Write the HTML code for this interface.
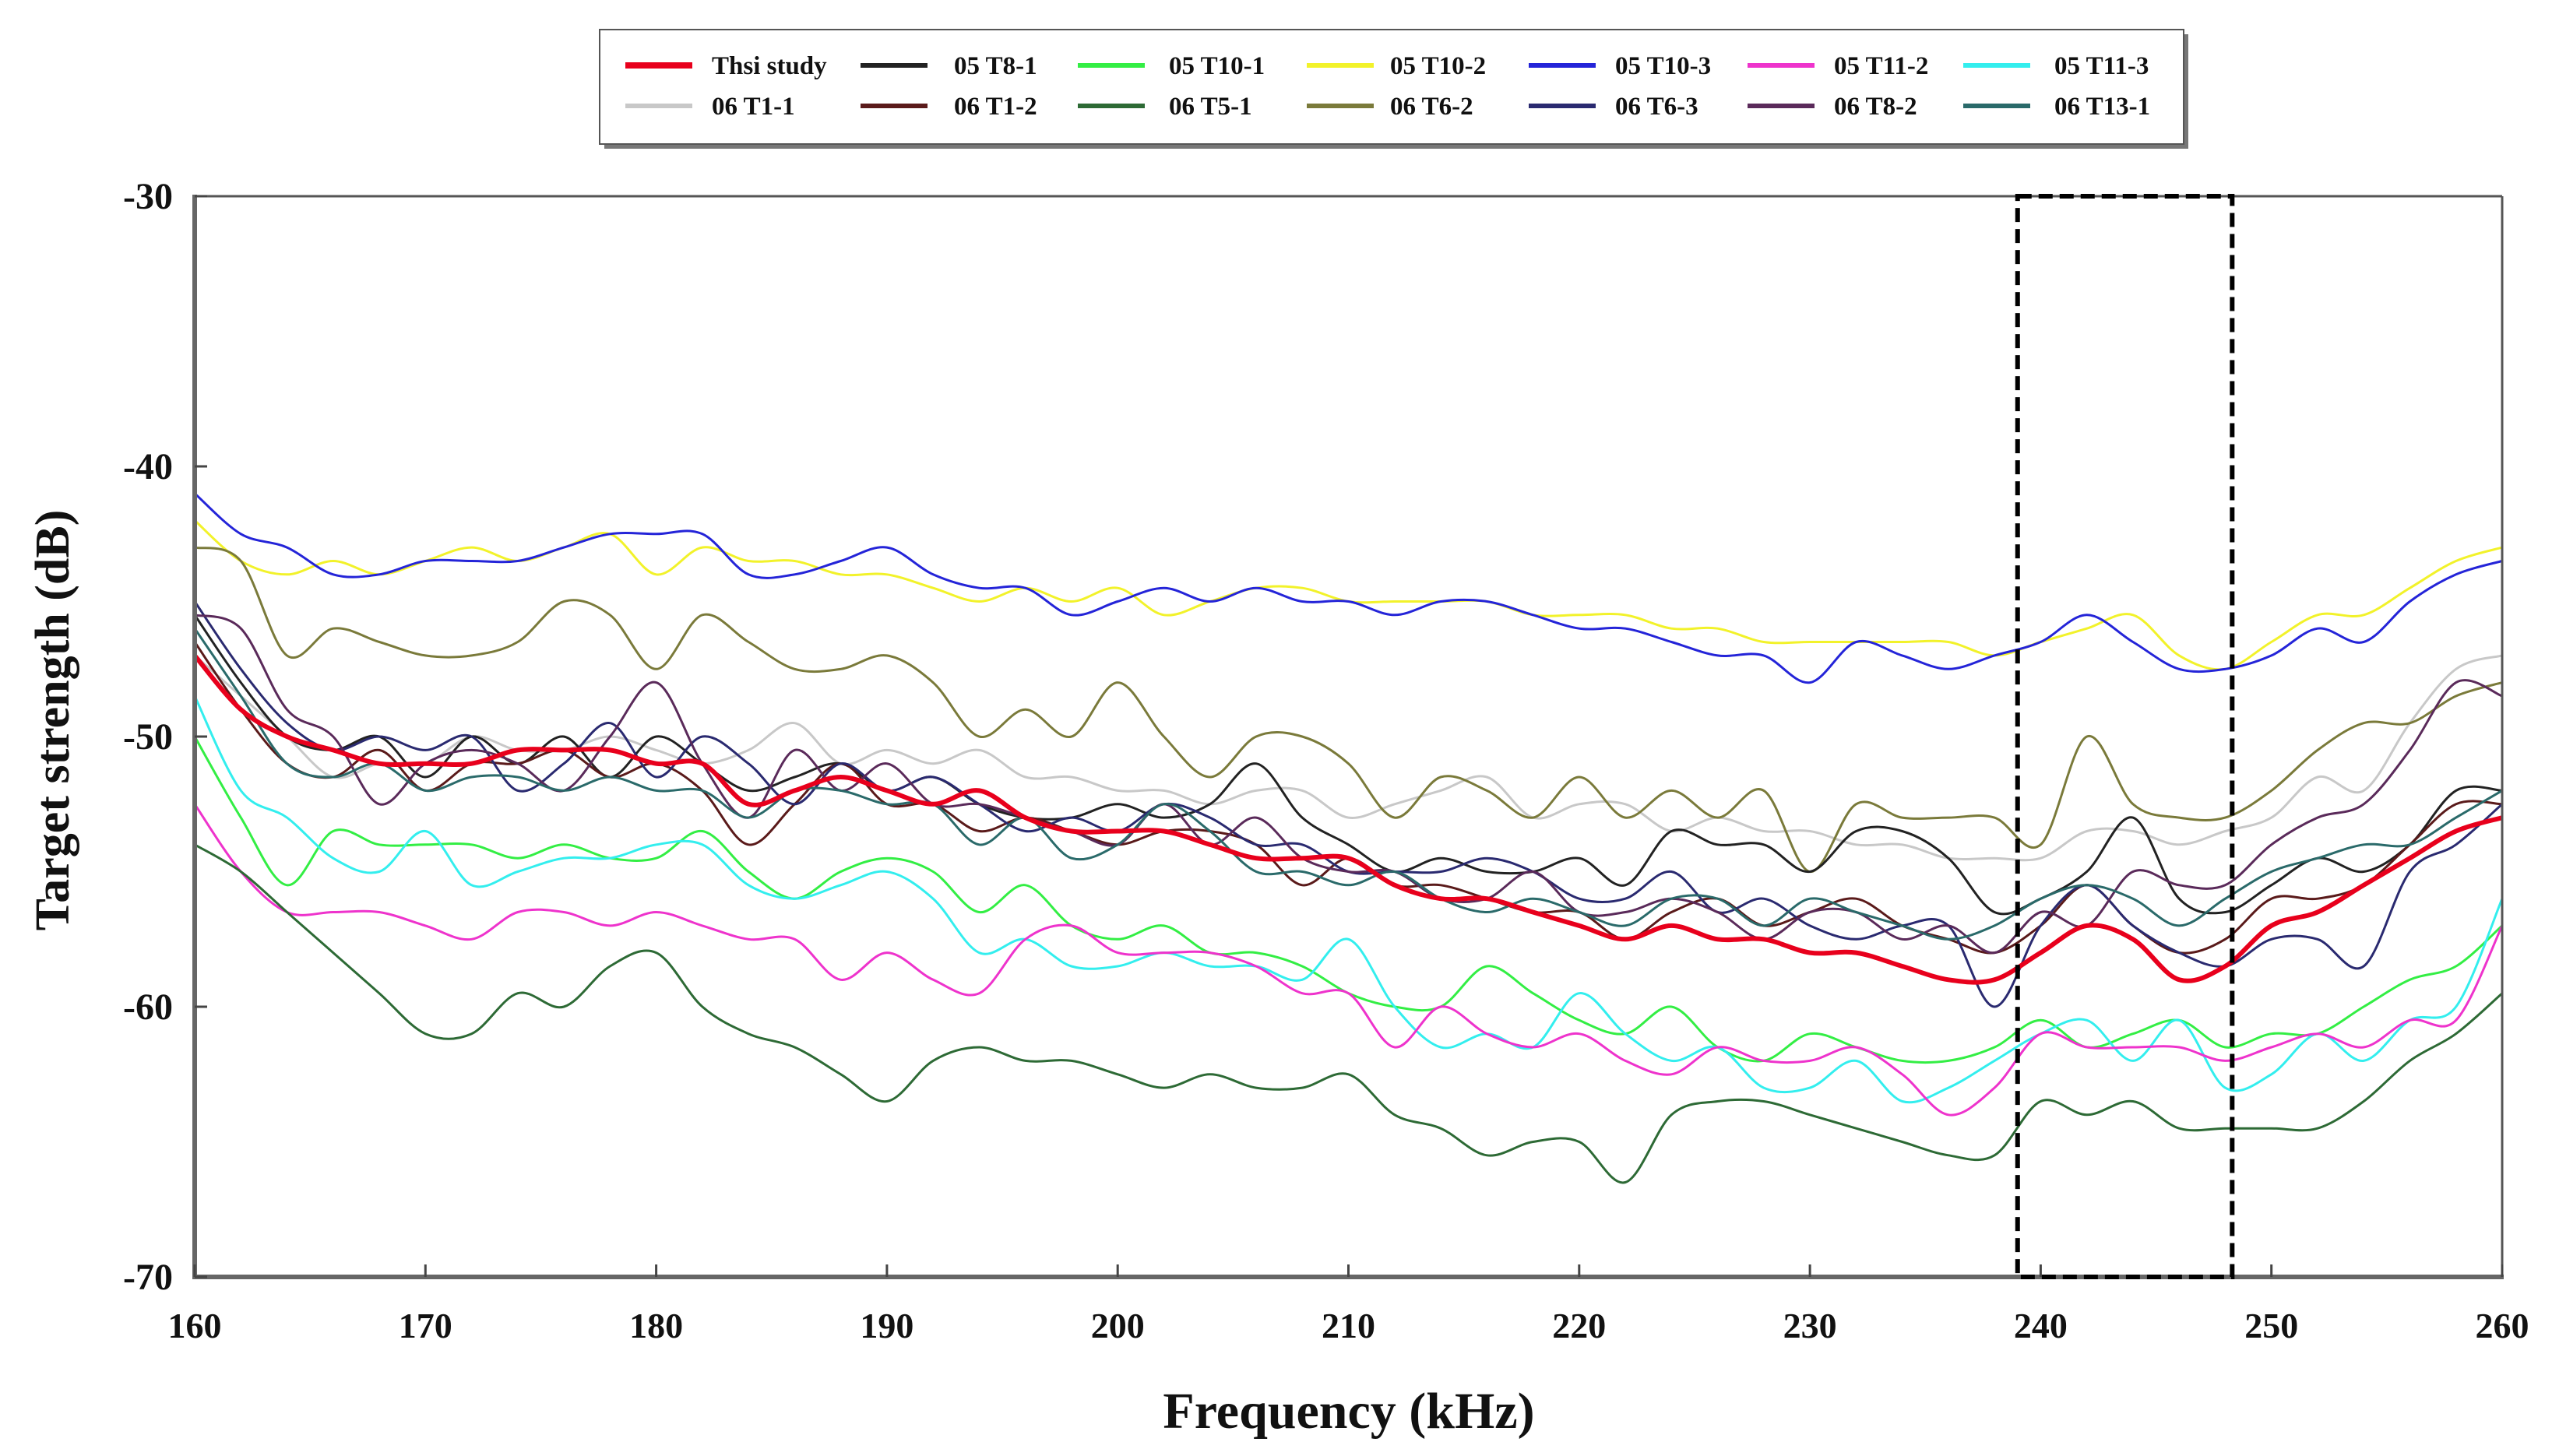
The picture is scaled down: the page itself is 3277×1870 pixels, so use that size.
<!DOCTYPE html>
<html><head><meta charset="utf-8"><style>
html,body{margin:0;padding:0;background:#fff;}
svg{display:block;}
text{font-family:"Liberation Serif",serif;font-weight:bold;fill:#111;}
</style></head><body>
<svg id="chart" width="3277" height="1870" viewBox="0 0 3277 1870" xmlns="http://www.w3.org/2000/svg">
<g id="plot"></g>
<g id="axes"></g>
<g id="legend"></g>
</svg>
<script>
const freqs = [160,162,164,166,168,170,172,174,176,178,180,182,184,186,188,190,192,194,196,198,200,202,204,206,208,210,212,214,216,218,220,222,224,226,228,230,232,234,236,238,240,242,244,246,248,250,252,254,256,258,260];
const seriesNames = ["Thsi study","05 T8-1","05 T10-1","05 T10-2","05 T10-3","05 T11-2","05 T11-3","06 T1-1","06 T1-2","06 T5-1","06 T6-2","06 T6-3","06 T8-2","06 T13-1"];
const thisStudy = [-47,-49,-50,-50.5,-51,-51,-51,-50.5,-50.5,-50.5,-51,-51,-52.5,-52,-51.5,-52,-52.5,-52,-53,-53.5,-53.5,-53.5,-54,-54.5,-54.5,-54.5,-55.5,-56,-56,-56.5,-57,-57.5,-57,-57.5,-57.5,-58,-58,-58.5,-59,-59,-58,-57,-57.5,-59,-58.5,-57,-56.5,-55.5,-54.5,-53.5,-53];
const s05T8_1 = [-45.5,-48,-50,-50.5,-50,-51.5,-50,-51,-50,-51.5,-50,-51,-52,-51.5,-51,-52,-51.5,-52.5,-53,-53,-52.5,-53,-52.5,-51,-53,-54,-55,-54.5,-55,-55,-54.5,-55.5,-53.5,-54,-54,-55,-53.5,-53.5,-54.5,-56.5,-56,-55,-53,-56,-56.5,-55.5,-54.5,-55,-54,-52,-52];
const s05T10_1 = [-50,-53,-55.5,-53.5,-54,-54,-54,-54.5,-54,-54.5,-54.5,-53.5,-55,-56,-55,-54.5,-55,-56.5,-55.5,-57,-57.5,-57,-58,-58,-58.5,-59.5,-60,-60,-58.5,-59.5,-60.5,-61,-60,-61.5,-62,-61,-61.5,-62,-62,-61.5,-60.5,-61.5,-61,-60.5,-61.5,-61,-61,-60,-59,-58.5,-57];
const s05T10_2 = [-42,-43.5,-44,-43.5,-44,-43.5,-43,-43.5,-43,-42.5,-44,-43,-43.5,-43.5,-44,-44,-44.5,-45,-44.5,-45,-44.5,-45.5,-45,-44.5,-44.5,-45,-45,-45,-45,-45.5,-45.5,-45.5,-46,-46,-46.5,-46.5,-46.5,-46.5,-46.5,-47,-46.5,-46,-45.5,-47,-47.5,-46.5,-45.5,-45.5,-44.5,-43.5,-43];
const s05T10_3 = [-41,-42.5,-43,-44,-44,-43.5,-43.5,-43.5,-43,-42.5,-42.5,-42.5,-44,-44,-43.5,-43,-44,-44.5,-44.5,-45.5,-45,-44.5,-45,-44.5,-45,-45,-45.5,-45,-45,-45.5,-46,-46,-46.5,-47,-47,-48,-46.5,-47,-47.5,-47,-46.5,-45.5,-46.5,-47.5,-47.5,-47,-46,-46.5,-45,-44,-43.5];
const s05T11_2 = [-52.5,-55,-56.5,-56.5,-56.5,-57,-57.5,-56.5,-56.5,-57,-56.5,-57,-57.5,-57.5,-59,-58,-59,-59.5,-57.5,-57,-58,-58,-58,-58.5,-59.5,-59.5,-61.5,-60,-61,-61.5,-61,-62,-62.5,-61.5,-62,-62,-61.5,-62.5,-64,-63,-61,-61.5,-61.5,-61.5,-62,-61.5,-61,-61.5,-60.5,-60.5,-57];
const s05T11_3 = [-48.5,-52,-53,-54.5,-55,-53.5,-55.5,-55,-54.5,-54.5,-54,-54,-55.5,-56,-55.5,-55,-56,-58,-57.5,-58.5,-58.5,-58,-58.5,-58.5,-59,-57.5,-60,-61.5,-61,-61.5,-59.5,-61,-62,-61.5,-63,-63,-62,-63.5,-63,-62,-61,-60.5,-62,-60.5,-63,-62.5,-61,-62,-60.5,-60,-56];
const s06T1_1 = [-47,-48.5,-50,-51.5,-51,-51,-50,-50.5,-50.5,-50,-50.5,-51,-50.5,-49.5,-51,-50.5,-51,-50.5,-51.5,-51.5,-52,-52,-52.5,-52,-52,-53,-52.5,-52,-51.5,-53,-52.5,-52.5,-53.5,-53,-53.5,-53.5,-54,-54,-54.5,-54.5,-54.5,-53.5,-53.5,-54,-53.5,-53,-51.5,-52,-49.5,-47.5,-47];
const s06T1_2 = [-46.5,-49,-51,-51.5,-50.5,-52,-51,-51,-50.5,-51.5,-51,-52,-54,-52.5,-51,-52.5,-52.5,-53.5,-53,-53.5,-54,-53.5,-53.5,-54,-55.5,-54.5,-55.5,-55.5,-56,-56.5,-56.5,-57.5,-56.5,-56,-57,-56.5,-56,-57,-57.5,-58,-57,-55.5,-57,-58,-57.5,-56,-56,-55.5,-54,-52.5,-52.5];
const s06T5_1 = [-54,-55,-56.5,-58,-59.5,-61,-61,-59.5,-60,-58.5,-58,-60,-61,-61.5,-62.5,-63.5,-62,-61.5,-62,-62,-62.5,-63,-62.5,-63,-63,-62.5,-64,-64.5,-65.5,-65,-65,-66.5,-64,-63.5,-63.5,-64,-64.5,-65,-65.5,-65.5,-63.5,-64,-63.5,-64.5,-64.5,-64.5,-64.5,-63.5,-62,-61,-59.5];
const s06T6_2 = [-43,-43.5,-47,-46,-46.5,-47,-47,-46.5,-45,-45.5,-47.5,-45.5,-46.5,-47.5,-47.5,-47,-48,-50,-49,-50,-48,-50,-51.5,-50,-50,-51,-53,-51.5,-52,-53,-51.5,-53,-52,-53,-52,-55,-52.5,-53,-53,-53,-54,-50,-52.5,-53,-53,-52,-50.5,-49.5,-49.5,-48.5,-48];
const s06T6_3 = [-45,-47.5,-49.5,-50.5,-50,-50.5,-50,-52,-51,-49.5,-51.5,-50,-51,-52.5,-51,-52,-51.5,-52.5,-53.5,-53,-53.5,-52.5,-53,-54,-54,-55,-55,-55,-54.5,-55,-56,-56,-55,-56.5,-56,-57,-57.5,-57,-57,-60,-57,-55.5,-57,-58,-58.5,-57.5,-57.5,-58.5,-55,-54,-52.5];
const s06T8_2 = [-45.5,-46,-49,-50,-52.5,-51,-50.5,-51,-52,-50,-48,-51,-53,-50.5,-52,-51,-52.5,-52.5,-53,-53.5,-54,-52.5,-54,-53,-54.5,-55,-55,-56,-56,-55,-56.5,-56.5,-56,-56.5,-57.5,-56.5,-56.5,-57.5,-57,-58,-56.5,-57,-55,-55.5,-55.5,-54,-53,-52.5,-50.5,-48,-48.5];
const s06T13_1 = [-46,-48.5,-51,-51.5,-51,-52,-51.5,-51.5,-52,-51.5,-52,-52,-53,-52,-52,-52.5,-52.5,-54,-53,-54.5,-54,-52.5,-53.5,-55,-55,-55.5,-55,-56,-56.5,-56,-56.5,-57,-56,-56,-57,-56,-56.5,-57,-57.5,-57,-56,-55.5,-56,-57,-56,-55,-54.5,-54,-54,-53,-52];
const xTicks = [160,170,180,190,200,210,220,230,240,250,260];
const yTicks = [-30,-40,-50,-60,-70];
const highlightRange = [239, 248.3];

const PL=250, PR=3213, PT=252, PB=1640;
const X0=160, X1=260, Y0=-70, Y1=-30;
function xs(v){return PL+(v-X0)/(X1-X0)*(PR-PL);}
function ys(v){return PB-(v-Y0)/(Y1-Y0)*(PB-PT);}
const NS="http://www.w3.org/2000/svg";
function mk(tag,attrs,parent){const e=document.createElementNS(NS,tag);for(const k in attrs)e.setAttribute(k,attrs[k]);parent.appendChild(e);return e;}

const seriesData=[thisStudy,s05T8_1,s05T10_1,s05T10_2,s05T10_3,s05T11_2,s05T11_3,s06T1_1,s06T1_2,s06T5_1,s06T6_2,s06T6_3,s06T8_2,s06T13_1];
const colors=["#e8001c","#222222","#33ee44","#f2f22a","#2424d8","#ee33cc","#33eeee","#c8c8c8","#5a1a1a","#2d6a35","#7a7a3a","#2a2a70","#5a2a5a","#2a6a6a"];
const widths=[6,3,3,3,3,3,3,3,3,3,3,3,3,3];

function smoothPath(vals){
  const p=vals.map((v,i)=>[xs(freqs[i]),ys(v)]);
  let d="M"+p[0][0].toFixed(1)+","+p[0][1].toFixed(1);
  for(let i=0;i<p.length-1;i++){
    const p0=p[i-1]||p[i],p1=p[i],p2=p[i+1],p3=p[i+2]||p2;
    const c1=[p1[0]+(p2[0]-p0[0])/6,p1[1]+(p2[1]-p0[1])/6];
    const c2=[p2[0]-(p3[0]-p1[0])/6,p2[1]-(p3[1]-p1[1])/6];
    d+=" C"+c1[0].toFixed(1)+","+c1[1].toFixed(1)+" "+c2[0].toFixed(1)+","+c2[1].toFixed(1)+" "+p2[0].toFixed(1)+","+p2[1].toFixed(1);
  }
  return d;
}
const plot=document.getElementById('plot');
const order=[7,3,10,2,6,5,9,1,8,11,12,13,4,0];
order.forEach(i=>{
  const path=mk('path',{d:smoothPath(seriesData[i]),fill:'none',stroke:colors[i],'stroke-width':widths[i],'stroke-linejoin':'round'},plot);
  
  
});

const axes=document.getElementById('axes');
const frameTop=mk('line',{x1:PL,y1:PT,x2:PR,y2:PT,stroke:'#555','stroke-width':3},axes);


const frameRight=mk('line',{x1:PR,y1:PT,x2:PR,y2:PB,stroke:'#555','stroke-width':3},axes);


const yAxis=mk('line',{x1:PL,y1:PT-2,x2:PL,y2:PB+3,stroke:'#666','stroke-width':6},axes);


const xAxis=mk('line',{x1:PL-3,y1:PB,x2:PR+2,y2:PB,stroke:'#666','stroke-width':6},axes);



yTicks.forEach(t=>{
  const tk=mk('line',{x1:PL,y1:ys(t),x2:PL+16,y2:ys(t),stroke:'#444','stroke-width':3},axes);
  
  
  const lb=mk('text',{x:222,y:ys(t)+16,'text-anchor':'end','font-size':48},axes);
  lb.textContent=t;
  
  
});
xTicks.forEach(t=>{
  const tk=mk('line',{x1:xs(t),y1:PB,x2:xs(t),y2:PB-16,stroke:'#444','stroke-width':3},axes);
  
  
  const lb=mk('text',{x:xs(t),y:1718,'text-anchor':'middle','font-size':46},axes);
  lb.textContent=t;
  
  
});
const xt=mk('text',{x:1732,y:1834,'text-anchor':'middle','font-size':66},axes);
xt.textContent='Frequency (kHz)';


const yt=mk('text',{x:0,y:0,'text-anchor':'middle','font-size':62,transform:'translate(88,925) rotate(-90)'},axes);
yt.textContent='Target strength (dB)';



const hb=mk('rect',{x:xs(highlightRange[0]),y:PT,width:xs(highlightRange[1])-xs(highlightRange[0]),height:PB-PT,fill:'none',stroke:'#000','stroke-width':6,'stroke-dasharray':'18,9'},axes);



const legend=document.getElementById('legend');
const lsh=mk('rect',{x:776,y:44,width:2034,height:147,fill:'#777'},legend);


const lbx=mk('rect',{x:770,y:38,width:2034,height:147,fill:'#fff',stroke:'#555','stroke-width':2},legend);


const swX=[803,1105,1384,1678,1963,2244,2521];
const txX=[914,1225,1501,1785,2074,2355,2638];
seriesNames.forEach((n,i)=>{
  const r=Math.floor(i/7), c=i%7, y=r?136:84;
  const g=mk('g',{},legend);
  
  
  mk('line',{x1:swX[c],y1:y,x2:swX[c]+86,y2:y,stroke:colors[i],'stroke-width':i===0?8:6},g);
  const t=mk('text',{x:txX[c],y:y+11,'font-size':33},g);
  t.textContent=n;
});
</script>
</body></html>
